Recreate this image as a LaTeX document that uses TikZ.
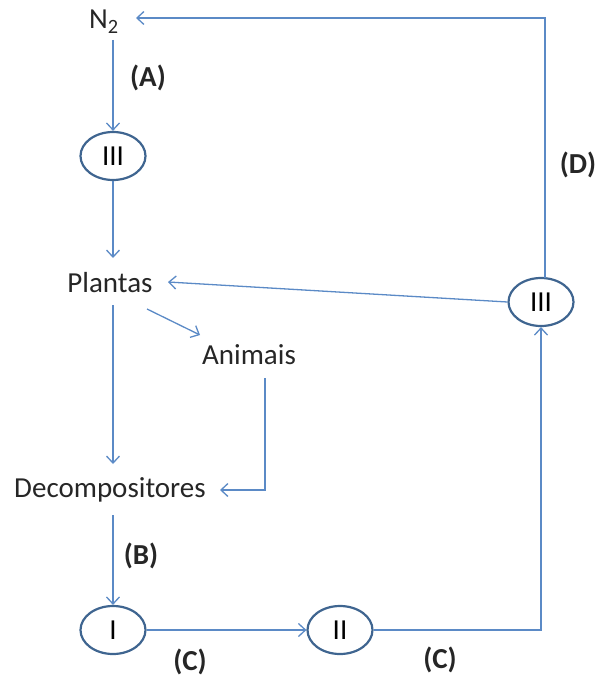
\documentclass[tikz,border=0pt]{standalone}
\usepackage{fontspec}
\setmainfont{Carlito}
\usetikzlibrary{arrows.meta,shapes.geometric}
\definecolor{arr}{HTML}{5B8AC6}
\definecolor{ell}{HTML}{3F6590}
\begin{document}
\begin{tikzpicture}[x=1pt,y=-1pt,
  font=\fontsize{29}{34}\selectfont,
  conn/.style={draw=arr,line width=1.3pt,-{Straight Barb[length=7pt,width=13pt,line width=1.3pt]}},
  plain/.style={draw=arr,line width=1.3pt},
  ov/.style={draw=ell,line width=2.2pt,ellipse,minimum width=65pt,minimum height=48pt,inner sep=0pt},
  lbl/.style={font=\fontsize{29}{34}\selectfont\bfseries,text=black!85},
  txt/.style={text=black!85,inner sep=0pt}]
\useasboundingbox (0,0) rectangle (598,679);
\node[txt] (n2) at (104,22) {N\textsubscript{2}};
\node[ov] (e1) at (113,156) {III};
\node[txt] (pl) at (110,283) {Plantas};
\node[txt] (an) at (249,355) {Animais};
\node[txt] (de) at (110,490) {Decompositores};
\node[ov] (ei) at (113,630) {I};
\node[ov] (eii) at (340,630) {II};
\node[ov] (e3) at (541,302) {III};
\node[lbl] (la) at (148,78) {(A)};
\node[lbl] (lb) at (141,556) {(B)};
\node[lbl] (lc1) at (190,662) {(C)};
\node[lbl] (lc2) at (440,660) {(C)};
\node[lbl] (ld) at (578,165) {(D)};
\coordinate (c1) at (265,490);
\coordinate (c2) at (541,630);
\coordinate (c3) at (545,18);
\draw[conn] (113,40) -- (e1.north);
\draw[conn] (e1.south) -- (113,258);
\draw[conn] (113,305) -- (113,464);
\draw[conn] (147,309) -- (200,335);
\draw[conn] (265,378) -- (c1) -- (220,490);
\draw[conn] (113,515) -- (ei.north);
\draw[conn] (ei.east) -- (eii.west);
\draw[conn] (eii.east) -- (c2) -- (e3.south);
\draw[conn] (e3.west) -- (168,282);
\draw[conn] (545,278) -- (c3) -- (136,18);
\end{tikzpicture}
\end{document}
